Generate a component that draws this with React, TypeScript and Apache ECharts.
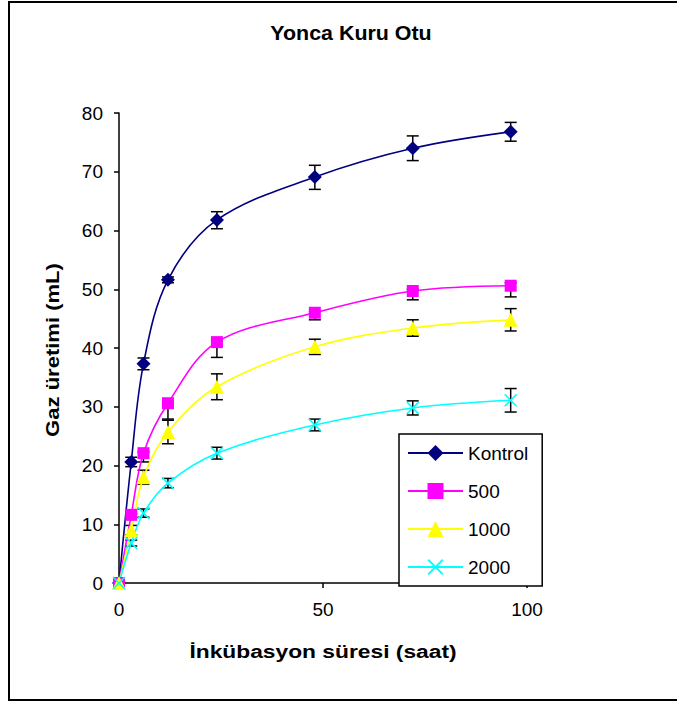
import React, { useEffect, useRef } from "react";
import * as echarts from "echarts";

const hours = [0, 3, 6, 12, 24, 48, 72, 96];
const seriesNames = ["Kontrol", "500", "1000", "2000"];
const kontrol = [0, 20.6, 37.3, 51.6, 61.8, 69.1, 74.0, 76.8];
const kontrolErrPlus = [0, 0.8, 1.0, 0.5, 1.4, 2.0, 2.1, 1.6];
const kontrolErrMinus = [0, 0.8, 1.0, 0.5, 1.5, 2.1, 2.1, 1.6];
const d500 = [0, 11.6, 22.1, 30.6, 41.0, 46.0, 49.7, 50.6];
const d500ErrPlus = [0, 0.2, 0.2, 0.0, 0.2, 0.2, 0.3, 0.5];
const d500ErrMinus = [0, 0.5, 1.5, 2.7, 2.6, 1.2, 1.5, 1.9];
const d1000 = [0, 9.0, 18.0, 25.7, 33.4, 40.2, 43.4, 44.8];
const d1000ErrPlus = [0, 0.8, 1.2, 2.0, 2.2, 1.3, 1.4, 1.9];
const d1000ErrMinus = [0, 0.8, 1.2, 2.0, 2.2, 1.3, 1.4, 1.9];
const d2000 = [0, 6.8, 11.9, 17.0, 22.1, 26.9, 29.8, 31.1];
const d2000ErrPlus = [0, 0.5, 0.7, 0.8, 1.0, 1.0, 1.2, 2.0];
const d2000ErrMinus = [0, 0.5, 0.7, 0.8, 1.0, 1.0, 1.2, 2.0];
const xTicks = [0, 50, 100];
const yTicks = [0, 10, 20, 30, 40, 50, 60, 70, 80];

const colors = ["#000080", "#FF00FF", "#FFFF00", "#00FFFF"];
const xSymbol =
  "path://M0,1.2L1.2,0L7,5.8L12.8,0L14,1.2L8.2,7L14,12.8L12.8,14L7,8.2L1.2,14L0,12.8L5.8,7Z";
const symbols = ["diamond", "rect", "triangle", xSymbol];
const symbolSizes = [14, 12, 14, 13];

const FONT = "'Liberation Sans', Arial, sans-serif";

export default function App() {
  const ref = useRef<HTMLDivElement>(null);

  useEffect(() => {
    if (!ref.current) return;
    const chart = echarts.init(ref.current, undefined, { renderer: "svg" });

    const values = [kontrol, d500, d1000, d2000];
    const plus = [kontrolErrPlus, d500ErrPlus, d1000ErrPlus, d2000ErrPlus];
    const minus = [kontrolErrMinus, d500ErrMinus, d1000ErrMinus, d2000ErrMinus];

    const lineSeries = seriesNames.map((name, i) => ({
      name,
      type: "line",
      data: hours.map((h, j) => [h, values[i][j]]),
      smooth: 0.35,
      symbol: symbols[i],
      symbolSize: symbolSizes[i],
      showAllSymbol: true,
      lineStyle: { color: colors[i], width: 1.6 },
      itemStyle: { color: colors[i] },
      z: 3,
    }));

    const errSeries = seriesNames.map((name, i) => ({
      name: "err-" + name,
      type: "custom",
      z: 2,
      silent: true,
      encode: { x: 0, y: 1 },
      data: hours.map((h, j) => [h, values[i][j], minus[i][j], plus[i][j]]),
      renderItem: (params: any, api: any) => {
        const x = api.value(0);
        const y = api.value(1);
        const lo = api.value(2);
        const hi = api.value(3);
        if (lo === 0 && hi === 0) return null;
        const top = api.coord([x, y + hi]);
        const bot = api.coord([x, y - lo]);
        const w = 6;
        const st = { stroke: "#000", lineWidth: 1.5 };
        return {
          type: "group",
          children: [
            { type: "line", shape: { x1: top[0], y1: top[1], x2: bot[0], y2: bot[1] }, style: st },
            { type: "line", shape: { x1: top[0] - w, y1: top[1], x2: top[0] + w, y2: top[1] }, style: st },
            { type: "line", shape: { x1: bot[0] - w, y1: bot[1], x2: bot[0] + w, y2: bot[1] }, style: st },
          ],
        };
      },
    }));

    chart.setOption({
      animation: false,
      backgroundColor: "#ffffff",
      grid: { left: 119, right: 150, top: 113, bottom: 119, containLabel: false },
      xAxis: {
        type: "value",
        min: 0,
        max: 100,
        interval: 50,
        splitLine: { show: false },
        axisLine: { onZero: false, lineStyle: { color: "#000", width: 1.5 } },
        axisTick: { show: true, inside: false, length: 5, lineStyle: { color: "#000", width: 1.5 } },
        axisLabel: {
          margin: 17,
          fontSize: 19,
          fontFamily: FONT,
          color: "#000",
          formatter: (v: number) => (xTicks.includes(v) ? String(v) : ""),
        },
      },
      yAxis: {
        type: "value",
        min: 0,
        max: 80,
        interval: 10,
        splitLine: { show: false },
        axisLine: { show: true, onZero: false, lineStyle: { color: "#000", width: 1.5 } },
        axisTick: { show: true, inside: false, length: 5, lineStyle: { color: "#000", width: 1.5 } },
        axisLabel: {
          margin: 16,
          fontSize: 19,
          fontFamily: FONT,
          color: "#000",
          formatter: (v: number) => (yTicks.includes(v) ? String(v) : ""),
        },
      },
      legend: {
        data: seriesNames,
        orient: "vertical",
        left: 399,
        top: 434,
        padding: [9, 14, 9, 8],
        itemGap: 18,
        itemWidth: 55,
        itemHeight: 20,
        backgroundColor: "#ffffff",
        borderColor: "#000",
        borderWidth: 1.5,
        borderRadius: 0,
        textStyle: { fontSize: 19, fontFamily: FONT, color: "#000", lineHeight: 20 },
        z: 10,
      },
      graphic: [
        {
          type: "rect",
          z: -1,
          silent: true,
          shape: { x: 9, y: 2, width: 720, height: 698 },
          style: { fill: "none", stroke: "#000", lineWidth: 2 },
        },
        {
          type: "text",
          x: 351,
          y: 33,
          scaleX: 1.02,
          style: {
            text: "Yonca Kuru Otu",
            fontSize: 21,
            fontWeight: "bold",
            fontFamily: FONT,
            fill: "#000",
            align: "center",
            verticalAlign: "middle",
          },
        },
        {
          type: "text",
          x: 323,
          y: 651,
          scaleX: 1.2,
          style: {
            text: "İnkübasyon süresi (saat)",
            fontSize: 19,
            fontWeight: "bold",
            fontFamily: FONT,
            fill: "#000",
            align: "center",
            verticalAlign: "middle",
          },
        },
        {
          type: "text",
          x: 52,
          y: 350,
          rotation: Math.PI / 2,
          scaleX: 1.16,
          style: {
            text: "Gaz üretimi (mL)",
            fontSize: 19,
            fontWeight: "bold",
            fontFamily: FONT,
            fill: "#000",
            align: "center",
            verticalAlign: "middle",
          },
        },
      ],
      series: [...errSeries, ...lineSeries],
    });

    return () => chart.dispose();
  }, []);

  return (
    <div
      ref={ref}
      style={{ position: "fixed", left: 0, top: 0, width: 677, height: 702, background: "#fff" }}
    />
  );
}
